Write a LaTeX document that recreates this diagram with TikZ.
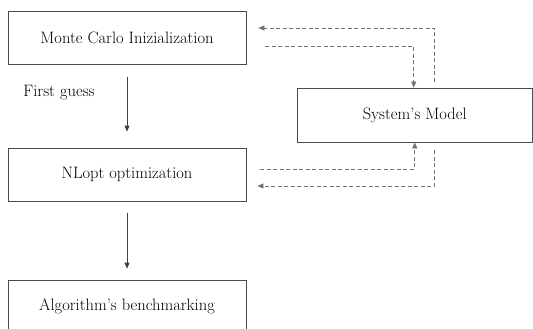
\documentclass[tikz,border=0pt]{standalone}
\usetikzlibrary{arrows.meta}
\begin{document}
\begin{tikzpicture}[x=1pt,y=-1pt,
	box/.style={draw=black!70, line width=0.7pt, minimum width=238pt, minimum height=53pt, inner sep=0pt},
	flow/.style={draw=black!75, line width=0.7pt, -{Triangle[length=6pt,width=5pt]}},
	back/.style={flow, draw=black!55, dash pattern=on 4pt off 2.5pt},
	every node/.style={font=\fontsize{16.5}{20}\selectfont}]
	\useasboundingbox (0,0) rectangle (533,329);
	\node[box] (mc) at (127,37.5) {Monte Carlo Inizialization};
	\node[box] (nl) at (127,174.5) {NLopt optimization};
	\node[box] (ab) at (127,306.5) {Algorithm’s benchmarking};
	\node[box, minimum width=235.5pt, minimum height=54pt] (sm) at (414.75,115) {System’s Model};
	\node (fg) at (59,93) {First guess};
	\draw[flow, shorten <=13pt, shorten >=16pt] (mc) -- (nl);
	\draw[flow, shorten <=12pt, shorten >=11pt] (nl) -- (ab);
	\draw[back] ([xshift=20pt,yshift=6pt]sm.north) |- ([xshift=12pt,yshift=9.5pt]mc.east);
	\draw[back] ([xshift=19pt,yshift=-8.5pt]mc.east) -| ([xshift=-1pt]sm.north);
	\draw[back] ([xshift=14pt,yshift=5.5pt]nl.east) -| (sm.south);
	\draw[back] ([xshift=20pt,yshift=-8pt]sm.south) |- ([xshift=11pt,yshift=-11.5pt]nl.east);
\end{tikzpicture}
\end{document}
